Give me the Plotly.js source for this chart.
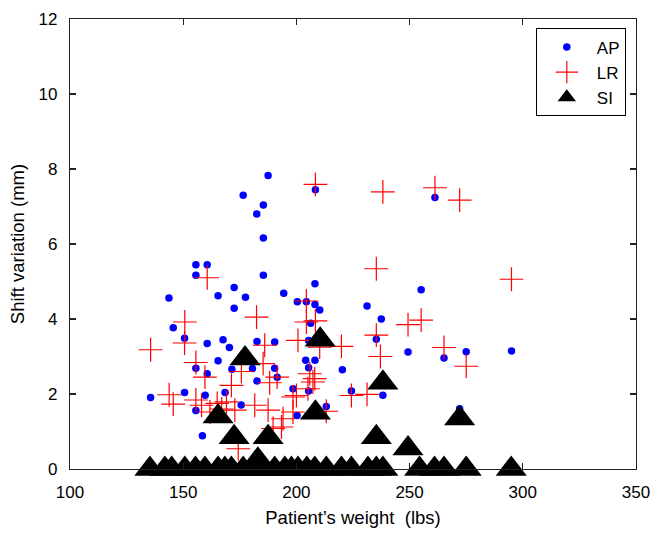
<!DOCTYPE html>
<html>
<head>
<meta charset="utf-8">
<script src="https://cdn.plot.ly/plotly-3.0.1.min.js"></script>
<style>html,body{margin:0;padding:0;background:#fff;}#chart{width:665px;height:536px;}</style>
</head>
<body>
<div id="chart"></div>
<script>
// AP shift variation (mm) vs patient weight (lbs)
const apWeight = [176.5,155.6,160.6,155.6,172.5,143.7,165.4,177.5,172.5,187.5,208.4,185.4,182.5,185.4,185.4,194.4,208.2,200.4,204.4,208.2,210.3,261.2,255.1,237.5,249.3,265.2,275.0,295.0,231.2,235.3,220.3,224.3,238.2,272.1,145.6,150.6,160.6,167.6,170.4,165.4,155.6,160.6,171.5,135.6,150.6,159.7,168.5,155.6,175.6,158.5,182.6,190.4,180.6,190.4,191.5,182.6,198.5,200.3,205.4,204.1,208.2,205.4,205.4,213.2,206.3];
const apShift  = [7.30,5.45,5.45,5.17,4.84,4.56,4.62,4.58,4.29,7.83,7.45,7.04,6.80,6.16,5.17,4.69,4.94,4.46,4.46,4.39,4.24,7.24,4.78,4.00,3.12,2.96,3.13,3.15,4.35,3.46,2.65,2.08,1.97,1.61,3.77,3.49,3.35,3.45,3.24,2.89,2.69,2.54,2.66,1.91,2.04,1.97,2.04,1.56,1.71,0.89,3.40,3.39,2.68,2.69,2.45,2.35,2.14,1.43,3.43,2.90,2.90,2.70,2.08,1.67,3.89];

// LR shift variation
const lrWeight = [135.6,150.7,150.6,160.6,155.6,159.6,143.8,145.6,155.6,158.1,161.8,165.0,167.0,171.3,169.1,175.7,182.4,186.0,185.3,188.2,191.5,181.6,187.5,198.5,198.5,194.1,189.7,193.4,174.3,172.8,200.0,205.1,207.3,205.9,208.1,200.7,204.4,204.4,208.4,210.3,208.4,213.2,219.9,224.3,231.2,235.3,237.1,235.3,238.2,249.3,255.1,261.2,265.2,272.1,275.0,295.0];
const lrShift  = [3.18,3.92,3.36,5.10,2.84,2.45,1.98,1.73,1.84,1.70,1.52,1.75,1.60,2.23,1.79,2.60,4.05,3.30,2.81,2.30,2.45,1.70,1.57,1.92,1.52,1.34,1.08,1.12,0.54,1.57,1.96,2.14,2.32,2.54,2.41,3.43,3.92,4.48,3.95,3.25,7.59,1.54,3.27,1.96,1.99,3.57,3.00,5.34,7.39,3.85,3.97,7.50,3.24,7.17,2.74,5.06];

// SI shift variation
const siWeight = [135.3,141.9,144.9,150.7,155.4,159.6,165.4,168.4,171.3,176.5,180.9,185.3,190.4,194.9,197.8,200.7,204.6,208.1,213.2,219.9,224.3,231.6,235.3,238.2,254.4,261.0,265.2,275.0,294.9,183.0,249.3,235.3,172.5,187.5,165.4,208.4,272.1,238.2,177.3,210.5];
const siShift  = [0,0,0,0,0,0,0,0,0,0,0,0,0,0,0,0,0,0,0,0,0,0,0,0,0,0,0,0,0,0.25,0.55,0.85,0.85,0.85,1.40,1.50,1.35,2.30,2.95,3.45];

const xTicks = [100,150,200,250,300,350];
const yTicks = [0,2,4,6,8,10,12];

const FONT = 'Liberation Sans, Arial, sans-serif';

const traces = [
  {x: apWeight, y: apShift, name: 'AP', type: 'scatter', mode: 'markers',
   marker: {symbol: 'circle', size: 7.5, color: 'rgb(0,0,255)'}},
  {x: lrWeight, y: lrShift, name: 'LR', type: 'scatter', mode: 'markers',
   marker: {symbol: 'cross-thin-open', size: 17, color: 'rgb(255,0,0)', line: {color: 'rgb(255,0,0)', width: 1.2}}},
  {x: siWeight, y: siShift, name: 'SI', type: 'scatter', mode: 'markers', cliponaxis: false,
   marker: {symbol: 'triangle-up', size: 27, color: 'black'}}
];

const axisCommon = {
  showgrid: false, zeroline: false, showline: true, linecolor: '#222', linewidth: 1.2,
  mirror: 'allticks', ticks: 'inside', ticklen: 6, tickcolor: '#222', tickwidth: 1.2,
  tickfont: {family: FONT, size: 17, color: 'black'}
};

const layout = {
  width: 665, height: 536,
  margin: {l: 70, r: 29, t: 19, b: 67},
  paper_bgcolor: 'white', plot_bgcolor: 'white',
  font: {family: FONT, color: 'black'},
  showlegend: true,
  xaxis: Object.assign({}, axisCommon, {
    range: [100, 350], tickvals: xTicks, ticktext: xTicks.map(String),
    ticklabelstandoff: 7,
    title: {text: 'Patient\u2019s weight\u00a0 (lbs)', font: {family: FONT, size: 18.5}, standoff: 10}
  }),
  yaxis: Object.assign({}, axisCommon, {
    range: [0, 12], tickvals: yTicks, ticktext: yTicks.map(String),
    ticklabelstandoff: 8,
    title: {text: 'Shift variation (mm)', font: {family: FONT, size: 18.5}, standoff: 9}
  }),
  legend: {
    x: 0.982, y: 0.979, xanchor: 'right', yanchor: 'top',
    bordercolor: 'black', borderwidth: 1, bgcolor: 'white',
    font: {family: FONT, size: 17}, tracegroupgap: 0, itemwidth: 50
  }
};

Plotly.newPlot('chart', traces, layout, {displayModeBar: false, staticPlot: true});
</script>
</body>
</html>
